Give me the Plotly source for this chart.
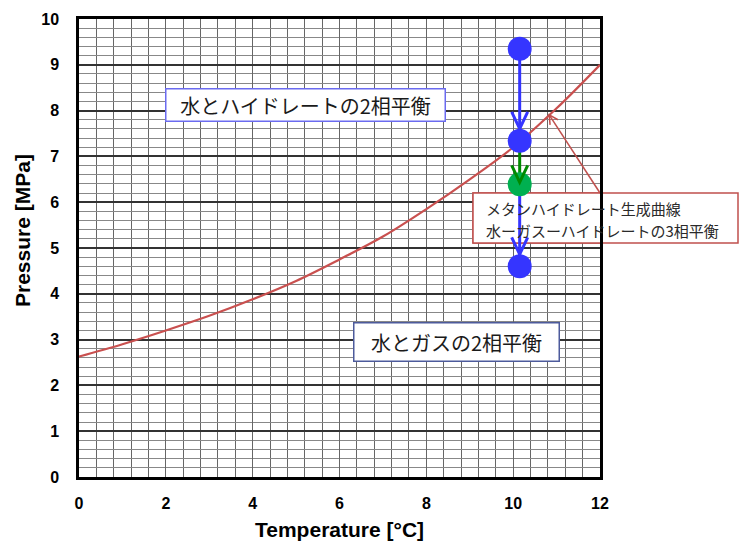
import numpy as np
import plotly.graph_objects as go

# Methane hydrate formation curve (water - gas - hydrate three-phase equilibrium)
temp_c = [0, 1, 2, 3, 4, 5, 6, 7, 8, 9, 10, 11, 12]
pressure_mpa = [2.63, 2.9, 3.2, 3.52, 3.88, 4.28, 4.75, 5.25, 5.85, 6.5, 7.2, 8.05, 9.0]

# Isothermal pressure-reduction path
path_temp = [10.15, 10.15, 10.15, 10.15]
path_pressure = [9.35, 7.34, 6.39, 4.6]
path_colors = ["#3535ff", "#3535ff", "#00b050", "#3535ff"]
step_colors = ["#3535ff", "#008a00", "#3535ff"]

# Axis ticks
x_ticks = [0, 2, 4, 6, 8, 10, 12]
y_ticks = [0, 1, 2, 3, 4, 5, 6, 7, 8, 9, 10]

# Callout target on the curve
callout_temp = 10.83

W, H = 741, 542
ML, MR, MT, MB = 79, 141, 19, 65
PW, PH = W - ML - MR, H - MT - MB
X_RANGE, Y_RANGE = (0, 12), (0, 10)
px_per_x = PW / (X_RANGE[1] - X_RANGE[0])
px_per_y = PH / (Y_RANGE[1] - Y_RANGE[0])


def paper_x(px):
    return (px - ML) / PW


def paper_y(py):
    return (MT + PH - py) / PH


def data_x(px):
    return X_RANGE[0] + (px - ML) / px_per_x


def data_y(py):
    return Y_RANGE[0] + (MT + PH - py) / px_per_y


JP = "Noto Sans CJK JP"
LAT = "Liberation Sans, Arial, sans-serif"
RED = "#c0504d"

fig = go.Figure()

# Equilibrium curve
fig.add_trace(go.Scatter(
    x=temp_c, y=pressure_mpa, mode="lines",
    line=dict(color="#c9504f", width=2.2, shape="spline"),
    hoverinfo="skip", showlegend=False,
))

# Path segments between consecutive states
for i, c in enumerate(step_colors):
    fig.add_trace(go.Scatter(
        x=path_temp[i:i + 2], y=path_pressure[i:i + 2], mode="lines",
        line=dict(color=c, width=3), hoverinfo="skip", showlegend=False,
    ))

# State points
fig.add_trace(go.Scatter(
    x=path_temp, y=path_pressure, mode="markers",
    marker=dict(size=24, color=path_colors, line=dict(width=0)),
    hoverinfo="skip", showlegend=False,
))

shapes = []

# Open chevron arrowheads on each path step (pixel-sized, anchored at the target point)
tip_offsets = [12, 2, 12]
for i, c in enumerate(step_colors):
    t = tip_offsets[i]
    shapes.append(dict(
        type="path", xref="x", yref="y",
        xsizemode="pixel", ysizemode="pixel",
        xanchor=path_temp[i + 1], yanchor=path_pressure[i + 1],
        path=f"M -8 {t + 17} L 0 {t} L 8 {t + 17}",
        line=dict(color=c, width=3), layer="above",
    ))

# Callout box for the equilibrium curve: outer part on the paper,
# inner part over the grid but under the path traces
box_l, box_r, box_t, box_b = 473, 738, 193, 243
shapes.append(dict(
    type="rect", xref="paper", yref="paper",
    x0=paper_x(box_l), x1=paper_x(box_r), y0=paper_y(box_b), y1=paper_y(box_t),
    fillcolor="white", line=dict(color=RED, width=1.5), layer="below",
))
shapes.append(dict(
    type="rect", xref="x", yref="y",
    x0=data_x(box_l), x1=data_x(box_r), y0=data_y(box_b), y1=data_y(box_t),
    fillcolor="white", line=dict(color=RED, width=1.5), layer="between",
))

# Leader line from the callout box to the curve
tip_p = float(np.interp(callout_temp, temp_c, pressure_mpa))
tail_t = X_RANGE[1]
tail_p = data_y(box_t)
shapes.append(dict(
    type="line", xref="x", yref="y",
    x0=tail_t, y0=tail_p, x1=callout_temp, y1=tip_p,
    line=dict(color=RED, width=1.5), layer="above",
))
dx = (tail_t - callout_temp) * px_per_x
dy = (tail_p - tip_p) * px_per_y
u = np.array([dx, dy]) / np.hypot(dx, dy)
arms = []
for ang in (np.radians(28), -np.radians(28)):
    r = np.array([[np.cos(ang), -np.sin(ang)], [np.sin(ang), np.cos(ang)]]) @ u * 10
    arms.append(r)
shapes.append(dict(
    type="path", xref="x", yref="y",
    xsizemode="pixel", ysizemode="pixel",
    xanchor=callout_temp, yanchor=tip_p,
    path=f"M {arms[0][0]:.2f} {arms[0][1]:.2f} L 0 0 L {arms[1][0]:.2f} {arms[1][1]:.2f}",
    line=dict(color=RED, width=1.5), layer="above",
))

annotations = [
    dict(text="Pressure [MPa]", x=paper_x(22), y=paper_y(231), xref="paper", yref="paper",
         textangle=-90, showarrow=False, xanchor="center", yanchor="middle",
         font=dict(family=LAT, size=21, color="black", weight="bold")),
    dict(text="Temperature [°C]", x=paper_x(339.5), y=paper_y(529), xref="paper", yref="paper",
         showarrow=False, xanchor="center", yanchor="middle",
         font=dict(family=LAT, size=21, color="black", weight="bold")),
    dict(text="水とハイドレートの2相平衡", x=paper_x(305), y=paper_y(104.5), xref="paper", yref="paper",
         showarrow=False, xanchor="center", yanchor="middle", width=278, height=31,
         bgcolor="white", bordercolor="#6b6bf0", borderwidth=1.5, borderpad=0,
         font=dict(family=JP, size=20, color="#1a1a1a")),
    dict(text="水とガスの2相平衡", x=paper_x(456), y=paper_y(341.5), xref="paper", yref="paper",
         showarrow=False, xanchor="center", yanchor="middle", width=204, height=37,
         bgcolor="white", bordercolor="#4d5b9c", borderwidth=1.5, borderpad=0,
         font=dict(family=JP, size=20, color="#1a1a1a")),
    dict(text="メタンハイドレート生成曲線", x=paper_x(484), y=paper_y(208), xref="paper", yref="paper",
         showarrow=False, xanchor="left", yanchor="middle",
         font=dict(family=JP, size=15, color="#2a2a2a")),
    dict(text="水ーガスーハイドレートの3相平衡", x=paper_x(484), y=paper_y(230), xref="paper", yref="paper",
         showarrow=False, xanchor="left", yanchor="middle",
         font=dict(family=JP, size=15, color="#2a2a2a")),
]

fig.update_layout(
    width=W, height=H,
    margin=dict(l=ML, r=MR, t=MT, b=MB, pad=0),
    paper_bgcolor="white", plot_bgcolor="white",
    showlegend=False,
    shapes=shapes,
    annotations=annotations,
    xaxis=dict(
        range=list(X_RANGE), tickmode="array", tickvals=x_ticks,
        ticks="", ticklabelstandoff=10,
        tickfont=dict(family=LAT, size=16, color="black", weight="bold"),
        showgrid=True, gridcolor="#666666", gridwidth=1,
        minor=dict(dtick=0.4, tick0=0, showgrid=True, gridcolor="#666666", gridwidth=1, ticks=""),
        showline=True, linecolor="black", linewidth=2.5, mirror=True,
        zeroline=False, fixedrange=True,
    ),
    yaxis=dict(
        range=list(Y_RANGE), tickmode="array", tickvals=y_ticks,
        ticks="", ticklabelstandoff=14,
        tickfont=dict(family=LAT, size=16, color="black", weight="bold"),
        showgrid=True, gridcolor="#333333", gridwidth=2,
        minor=dict(dtick=0.2, tick0=0, showgrid=True, gridcolor="#888888", gridwidth=1, ticks=""),
        showline=True, linecolor="black", linewidth=2.5, mirror=True,
        zeroline=False, fixedrange=True,
    ),
)

fig.write_html("out.html")
